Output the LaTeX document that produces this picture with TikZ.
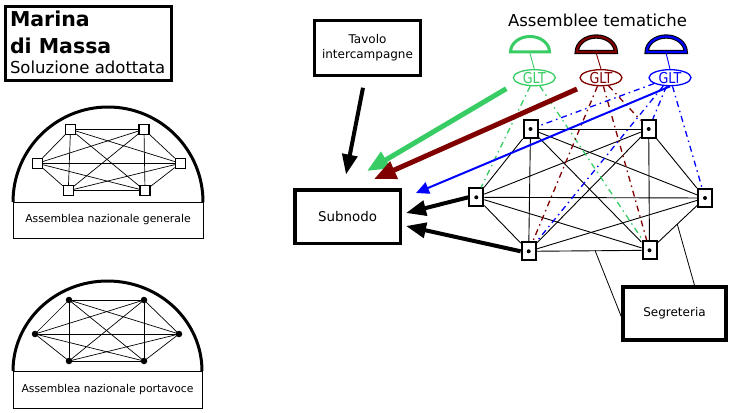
\documentclass[tikz,border=0pt]{standalone}
\usepackage{fontspec}
\usepackage{graphicx}
\setmainfont{DejaVu Sans}
\usetikzlibrary{arrows.meta,shapes.geometric,calc}
\definecolor{glgreen}{RGB}{55,205,100}
\definecolor{gldred}{RGB}{128,0,0}
\definecolor{glblue}{RGB}{0,0,255}
\begin{document}
\begin{tikzpicture}[x=1pt,y=-1pt,
  txt/.style={inner sep=0pt,outer sep=0pt},
  sq/.style={draw,fill=white,line width=1.1pt,minimum size=10pt,inner sep=0pt},
  dotn/.style={circle,fill=black,minimum size=6.5pt,inner sep=0pt},
  kedge/.style={line width=0.7pt},
  medge/.style={line width=0.9pt},
  mnode/.style={draw,fill=white,line width=2pt,minimum width=14pt,minimum height=18pt,inner sep=0pt},
  thickbox/.style={draw,line width=3.5pt,inner sep=0pt},
  labbox/.style={draw,line width=0.9pt,inner sep=0pt,font=\fontsize{10.8}{12}\selectfont},
  glt/.style={ellipse,draw=#1,text=#1,fill=white,line width=1.3pt,minimum width=42pt,minimum height=16pt,inner sep=0pt,
    font=\fontsize{15}{15}\selectfont},
  gltline/.style={draw=#1,line width=1.3pt,dash pattern=on 6pt off 4pt on 1.5pt off 4pt},
  bigarrow/.style={line width=4pt,-{Triangle[length=20pt,width=15pt]}},
]
\useasboundingbox (0,0) rectangle (733,412);

% ---------- title ----------
\node[draw,line width=3pt,minimum width=166pt,minimum height=74pt,inner sep=0pt] (title) at (88.5,43.5) {};
\node[txt,anchor=base west,font=\fontsize{20.5}{24}\selectfont\bfseries] (t1) at (10,27) {Marina};
\node[txt,anchor=base west,font=\fontsize{20.5}{24}\selectfont\bfseries] (t2) at (10,53) {di Massa};
\node[txt,anchor=base west,font=\fontsize{16.5}{20}\selectfont] (t3) at (10,74) {Soluzione adottata};

% ---------- assemblea nazionale generale ----------
\draw[line width=3pt] (13,202) arc[start angle=180,end angle=360,x radius=95,y radius=95];
\node[labbox,minimum width=190pt,minimum height=36pt] (agen) at (108,220) {Assemblea nazionale generale};
\node[sq] (g1) at (70.5,129.3) {};
\node[sq] (g2) at (144,129.3) {};
\node[sq] (g3) at (37.3,163.3) {};
\node[sq] (g4) at (180.3,163.3) {};
\node[sq] (g5) at (68.3,190.7) {};
\node[sq] (g6) at (145,190.7) {};
\foreach \i/\j in {1/2,1/3,1/4,1/5,1/6,2/3,2/4,2/5,2/6,3/4,3/5,3/6,4/5,4/6,5/6}
  \draw[kedge] (g\i) -- (g\j);

% ---------- assemblea nazionale portavoce ----------
\draw[line width=3pt] (13,371) arc[start angle=180,end angle=360,x radius=94.5,y radius=90];
\node[labbox,minimum width=189pt,minimum height=37pt] (apor) at (107.5,389.5) {Assemblea nazionale portavoce};
\node[dotn] (p1) at (69,300) {};
\node[dotn] (p2) at (144,300) {};
\node[dotn] (p3) at (35,334) {};
\node[dotn] (p4) at (179,334) {};
\node[dotn] (p5) at (69,361) {};
\node[dotn] (p6) at (144,361) {};
\foreach \i/\j in {1/2,1/3,1/4,1/5,1/6,2/3,2/4,2/5,2/6,3/4,3/5,3/6,4/5,4/6,5/6}
  \draw[kedge] (p\i.center) -- (p\j.center);

% ---------- boxes ----------
\node[thickbox,minimum width=106pt,minimum height=55pt,align=center,
  font=\fontsize{12}{15}\selectfont] (tav) at (367.5,48) {Tavolo\\intercampagne};
\node[thickbox,minimum width=105.5pt,minimum height=53.5pt,
  font=\fontsize{13.4}{16}\selectfont] (sub) at (347.5,216.5) {Subnodo};
\node[thickbox,minimum width=103pt,minimum height=53pt,
  font=\fontsize{12}{14}\selectfont] (seg) at (674.5,313.5) {Segreteria};

% ---------- assemblee tematiche ----------
\node[txt,anchor=base,font=\fontsize{16.5}{20}\selectfont] (at) at (597.5,27) {Assemblee tematiche};

\coordinate (dg1) at (530,52);
\coordinate (dg2) at (596.3,52);
\coordinate (dg3) at (666.2,52);
\draw[glgreen,line width=3pt] ($(dg1)+(-19.5,0)$) arc[start angle=180,end angle=360,x radius=19.5,y radius=15.5] -- cycle;
\draw[black,line width=4.3pt] ($(dg2)+(-19.5,0)$) arc[start angle=180,end angle=360,x radius=19.5,y radius=15.5] -- cycle;
\draw[gldred,line width=2.2pt] ($(dg2)+(-19.5,0)$) arc[start angle=180,end angle=360,x radius=19.5,y radius=15.5] -- cycle;
\draw[black,line width=4.3pt] ($(dg3)+(-19.5,0)$) arc[start angle=180,end angle=360,x radius=19.5,y radius=15.5] -- cycle;
\draw[glblue,line width=2.2pt] ($(dg3)+(-19.5,0)$) arc[start angle=180,end angle=360,x radius=19.5,y radius=15.5] -- cycle;

\node[glt=glgreen] (gl1) at (534.3,77.7) {\scalebox{0.85}[1]{GLT}};
\node[glt=gldred] (gl2) at (601,77.7) {\scalebox{0.85}[1]{GLT}};
\node[glt=glblue] (gl3) at (670,77.7) {\scalebox{0.85}[1]{GLT}};
\draw[glgreen,line width=0.9pt] ($(dg1)+(0,1.5)$) -- (gl1.north);
\draw[gldred,line width=0.9pt] ($(dg2)+(0,1.5)$) -- (gl2.north);
\draw[glblue,line width=0.9pt] ($(dg3)+(0,1.5)$) -- (gl3.north);

% ---------- mesh ----------
\node[mnode] (m1) at (530.5,129) {};
\node[mnode] (m2) at (648.7,129) {};
\node[mnode] (m3) at (476.3,197.3) {};
\node[mnode] (m4) at (705,198) {};
\node[mnode] (m5) at (528.7,251.3) {};
\node[mnode] (m6) at (649.5,250.3) {};
\foreach \k in {1,...,6}
  \fill (m\k.center) circle (2pt);
\foreach \i/\j in {1/2,1/3,1/4,1/5,1/6,2/3,2/4,2/5,2/6,3/4,3/5,3/6,4/5,4/6,5/6}
  \draw[medge] (m\i) -- (m\j);

% GLT links
\draw[gltline=glgreen] (gl1) -- (m3);
\draw[gltline=glgreen] (gl1) -- (m6);
\draw[gltline=gldred] (gl2) -- (m5);
\draw[gltline=gldred] (gl2) -- (m6);
\draw[gltline=gldred] (gl2) -- (m2);
\draw[gltline=glblue] (gl3) -- (m1);
\draw[gltline=glblue] (gl3) -- (m2);
\draw[gltline=glblue] (gl3) -- (m5);
\draw[gltline=glblue] (gl3) -- (m4);

% segreteria links
\coordinate (s1) at ($(m5)!0.55!(m6)$);
\coordinate (s2) at ($(m4)!0.5!(m6)$);
\draw[line width=0.8pt] (s1) -- ([yshift=-3pt]seg.west);
\draw[line width=0.8pt] (s2) -- ([xshift=20pt]seg.north);

% ---------- arrows ----------
\draw[bigarrow] ([shift={(-4.5,10.5)}]tav.south) -- ([shift={(-1.5,-13.5)}]sub.north);
\draw[glgreen,line width=5pt,-{Triangle[length=22pt,width=18pt]}] ([shift={(-28,11)}]gl1.center) -- ([shift={(19.5,-17)}]sub.north);
\draw[gldred,line width=5pt,-{Triangle[length=22pt,width=18pt]}] ([shift={(-24,11.3)}]gl2.center) -- ([shift={(26.5,-9)}]sub.north);
\draw[glblue,line width=2pt,-{Triangle[length=13pt,width=12pt]}] (gl3.south) -- ([shift={(14,5)}]sub.north east);
\draw[bigarrow] (m3.west) -- ([shift={(4,-3.5)}]sub.east);
\draw[bigarrow] (m5.west) -- ([shift={(4,9.5)}]sub.east);
\end{tikzpicture}
\end{document}
